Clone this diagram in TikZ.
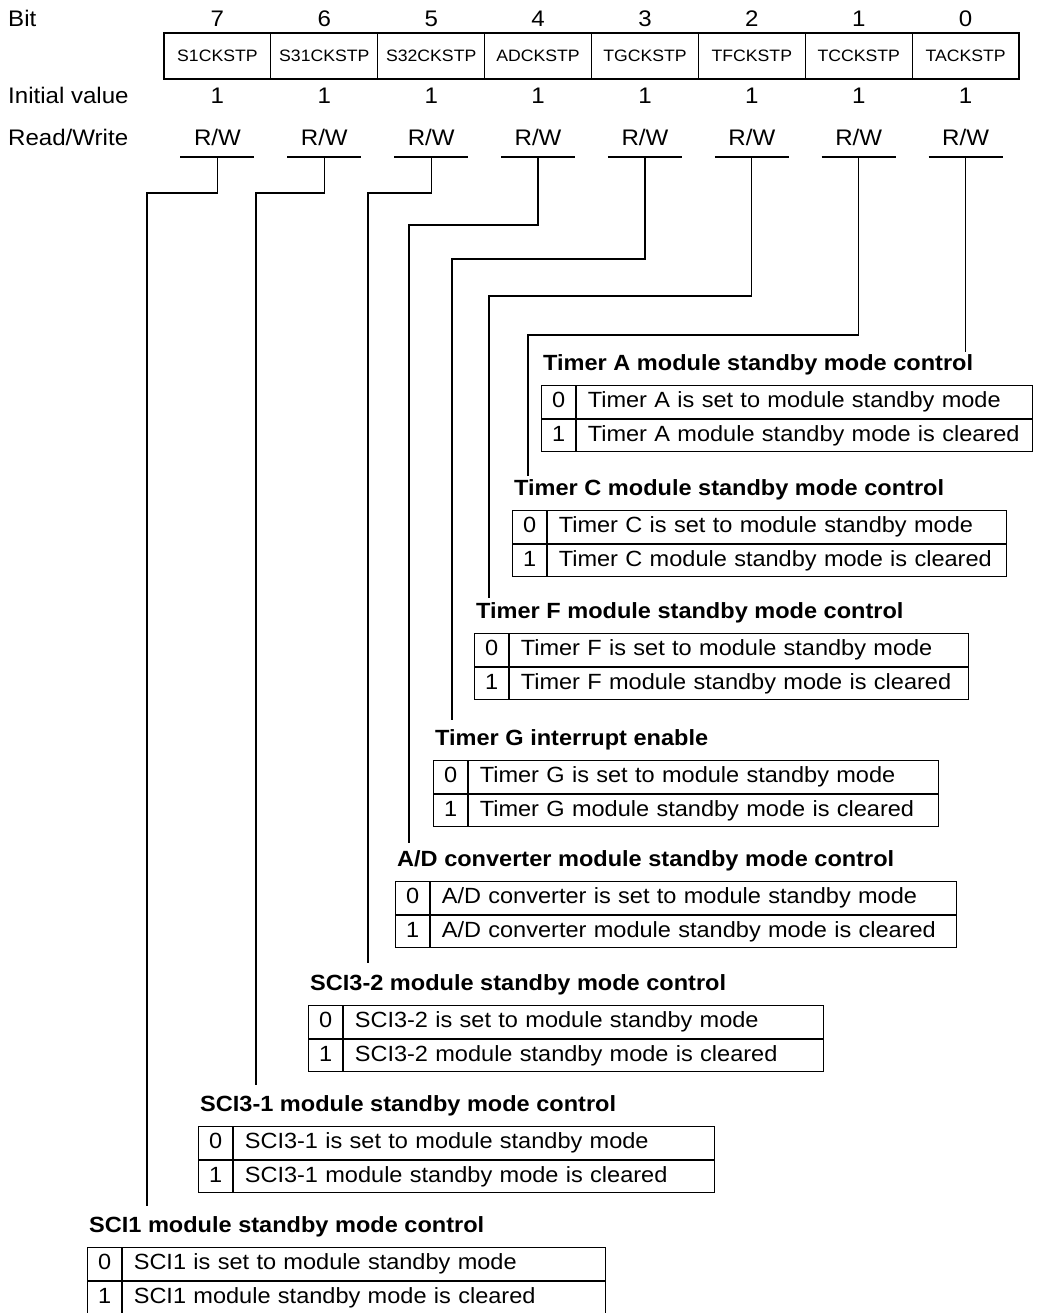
\documentclass[tikz,border=0pt]{standalone}
\usepackage{fontspec}
\setmainfont{Liberation Sans}[FakeStretch=1.07]
\usetikzlibrary{positioning}

\tikzset{
  toptext/.style={anchor=base, inner sep=0pt, font=\fontsize{22.5}{26}\selectfont},
  rowlabel/.style={toptext, anchor=base west},
  regcell/.style={draw, line width=1.2pt, minimum width=106.875pt, minimum height=46pt, inner sep=0pt, font=\fontsize{16.5}{19}\selectfont},
  wire/.style={line width=1.2pt},
  head/.style={anchor=base west, inner sep=0pt, font=\bfseries\fontsize{22}{26}\selectfont},
  bitcell/.style={draw, line width=1.2pt, minimum width=34pt, minimum height=32.5pt, inner sep=0pt, text height=16pt, text depth=5pt, font=\fontsize{22}{26}\selectfont},
  desc/.style={draw, line width=1.2pt, minimum height=32.5pt, inner xsep=11pt, inner ysep=0pt, text height=16pt, text depth=5pt, align=left, font=\fontsize{22}{26}\selectfont},
}

% one bit description: name, left x, title baseline, width, title, row 0, row 1
\newcommand{\modtable}[7]{%
  \pgfmathsetmacro\descw{#4-34}%
  \pgfmathsetmacro\textw{#4-34-22}%
  \node[head] (#1-hd) at (#2+2,#3) {#5};
  \node[bitcell, anchor=north west] (#1-b0) at (#2,#3+15) {0};
  \node[bitcell, below=0pt of #1-b0] (#1-b1) {1};
  \node[desc, minimum width=\descw pt, text width=\textw pt, right=0pt of #1-b0] (#1-d0) {#6};
  \node[desc, minimum width=\descw pt, text width=\textw pt, right=0pt of #1-b1] (#1-d1) {#7};
}

\begin{document}
\begin{tikzpicture}[x=1pt, y=-1pt]
	\useasboundingbox (0,0) rectangle (1043,1313);
	% Row labels:
	\node[rowlabel] (lbit) at (8,27) {Bit};
	\node[rowlabel] (linit) at (8,104) {Initial value};
	\node[rowlabel] (lrw) at (8,146) {Read/Write};
	% Register:
	\foreach \name [count=\k from 0] in {S1CKSTP,S31CKSTP,S32CKSTP,ADCKSTP,TGCKSTP,TFCKSTP,TCCKSTP,TACKSTP} {
		\pgfmathsetmacro\bx{217.44+106.875*\k}
		\pgfmathtruncatemacro\b{7-\k}
		\node[toptext] (n\b) at (\bx,27) {\b};
		\node[regcell] (r\b) at (\bx,56) {\name};
		\node[toptext] (iv\b) at (\bx,104) {1};
		\node[toptext] (rw\b) at (\bx,146) {R/W};
		\coordinate (ul\b) at (\bx,157);
		\draw[wire] ([xshift=-37pt]ul\b) -- ([xshift=37pt]ul\b);
	}
	% Tables:
	\modtable{ta}{541}{370}{490}{Timer A module standby mode control}{Timer A is set to module standby mode}{Timer A module standby mode is cleared}
	\modtable{tc}{512}{495}{493}{Timer C module standby mode control}{Timer C is set to module standby mode}{Timer C module standby mode is cleared}
	\modtable{tf}{474}{618}{493}{Timer F module standby mode control}{Timer F is set to module standby mode}{Timer F module standby mode is cleared}
	\modtable{tg}{433}{745}{504}{Timer G interrupt enable}{Timer G is set to module standby mode}{Timer G module standby mode is cleared}
	\modtable{ad}{395}{866}{560}{A/D converter module standby mode control}{A/D converter is set to module standby mode}{A/D converter module standby mode is cleared}
	\modtable{sb}{308}{990}{514}{SCI3-2 module standby mode control}{SCI3-2 is set to module standby mode}{SCI3-2 module standby mode is cleared}
	\modtable{sa}{198}{1111}{515}{SCI3-1 module standby mode control}{SCI3-1 is set to module standby mode}{SCI3-1 module standby mode is cleared}
	\modtable{sc}{87}{1232}{517}{SCI1 module standby mode control}{SCI1 is set to module standby mode}{SCI1 module standby mode is cleared}
	% Wires:
	\foreach \b/\xl/\yt/\ye in {7/147/193/1206, 6/256/193/1085, 5/368/193/963, 4/409/225/843, 3/452/259/720, 2/489/296/598, 1/528/335/476} {
		\coordinate (t\b) at (\xl,\yt);
		\coordinate (e\b) at (\xl,\ye);
		\draw[wire] (ul\b) |- (t\b) -- (e\b);
	}
	\coordinate (e0) at (963,352);
	\draw[wire] (ul0) -- (ul0 |- e0);
\end{tikzpicture}
\end{document}
